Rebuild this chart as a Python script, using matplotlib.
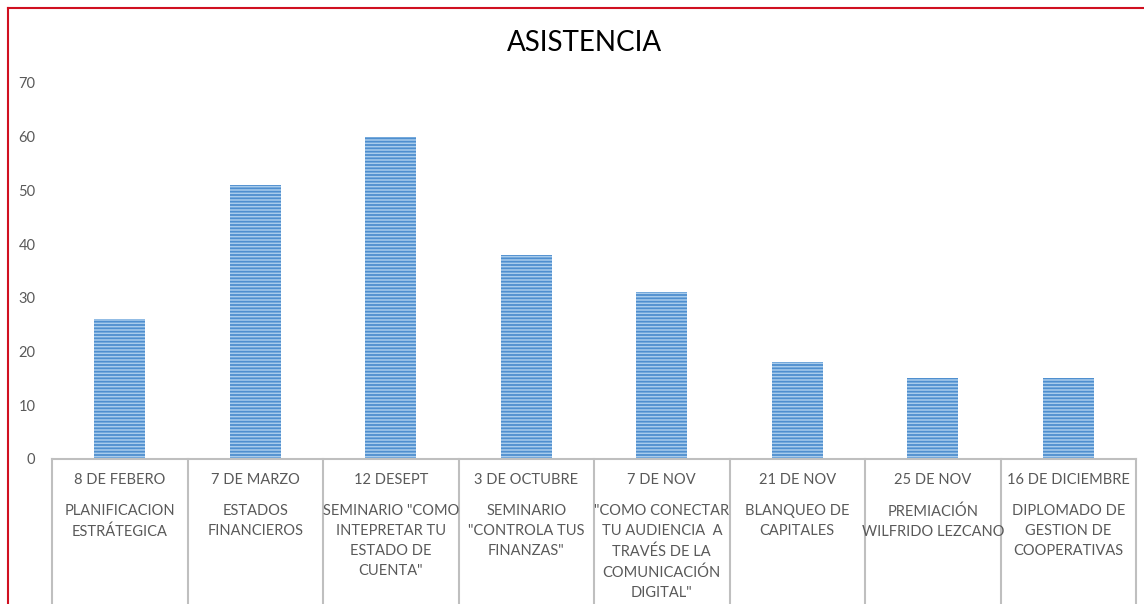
import matplotlib.pyplot as plt
from matplotlib.lines import Line2D

plt.rcParams['font.family'] = ['Lato', 'DejaVu Sans']
plt.rcParams['hatch.linewidth'] = 1.3

fechas = ['8 DE FEBERO', '7 DE MARZO', '12 DESEPT', '3 DE OCTUBRE',
          '7 DE NOV', '21 DE NOV', '25 DE NOV', '16 DE DICIEMBRE']
temas = ['PLANIFICACION\nESTRÁTEGICA',
         'ESTADOS\nFINANCIEROS',
         'SEMINARIO "COMO\nINTEPRETAR TU\nESTADO DE\nCUENTA"',
         'SEMINARIO\n"CONTROLA TUS\nFINANZAS"',
         '"COMO CONECTAR\nTU AUDIENCIA  A\nTRAVÉS DE LA\nCOMUNICACIÓN\nDIGITAL"',
         'BLANQUEO DE\nCAPITALES',
         'PREMIACIÓN\nWILFRIDO LEZCANO',
         'DIPLOMADO DE\nGESTION DE\nCOOPERATIVAS']
asistencia = [26, 51, 60, 38, 31, 18, 15, 15]

W, H = 1144, 604
fig = plt.figure(figsize=(W / 100, H / 100), dpi=100)
ax = fig.add_axes([52 / W, (H - 459) / H, (1136 - 52) / W, (459 - 83) / H])

x = list(range(len(asistencia)))
ax.bar(x, asistencia, width=0.376, color='#A9CCEC', edgecolor='#4F8FCF',
       linewidth=0, hatch='-----')

ax.set_xlim(-0.5, len(x) - 0.5)
ax.set_ylim(0, 70)
ax.set_yticks(range(0, 71, 10))
ax.tick_params(axis='y', length=0, pad=12, labelsize=10.5, labelcolor='#595959')
ax.set_xticks([])
for s in ['left', 'right', 'top']:
    ax.spines[s].set_visible(False)
ax.spines['bottom'].set_color('#BFBFBF')
ax.spines['bottom'].set_linewidth(1.5)

# cajas de categorias
for b in range(len(x) + 1):
    ax.plot([b - 0.5, b - 0.5], [0, -30], color='#BFBFBF', lw=1.5, clip_on=False)

for i in x:
    ax.annotate(fechas[i], xy=(i, 0), xytext=(0, -21), textcoords='offset pixels',
                ha='center', va='center', fontsize=10.5, color='#595959')
    ax.annotate(temas[i], xy=(i, 0), xytext=(0, -45), textcoords='offset pixels',
                ha='center', va='top', fontsize=10.5, color='#595959',
                linespacing=1.55)

fig.text(584 / W, 1 - 43 / H, 'ASISTENCIA', ha='center', va='center',
         fontsize=20, color='#000000')

# borde rojo
fig.add_artist(Line2D([8 / W, 1], [1 - 8 / H, 1 - 8 / H], color='#D01020', lw=1.5,
                      transform=fig.transFigure))
fig.add_artist(Line2D([8 / W, 8 / W], [0, 1 - 8 / H], color='#D01020', lw=1.5,
                      transform=fig.transFigure))

fig.savefig('out.png', dpi=100)
